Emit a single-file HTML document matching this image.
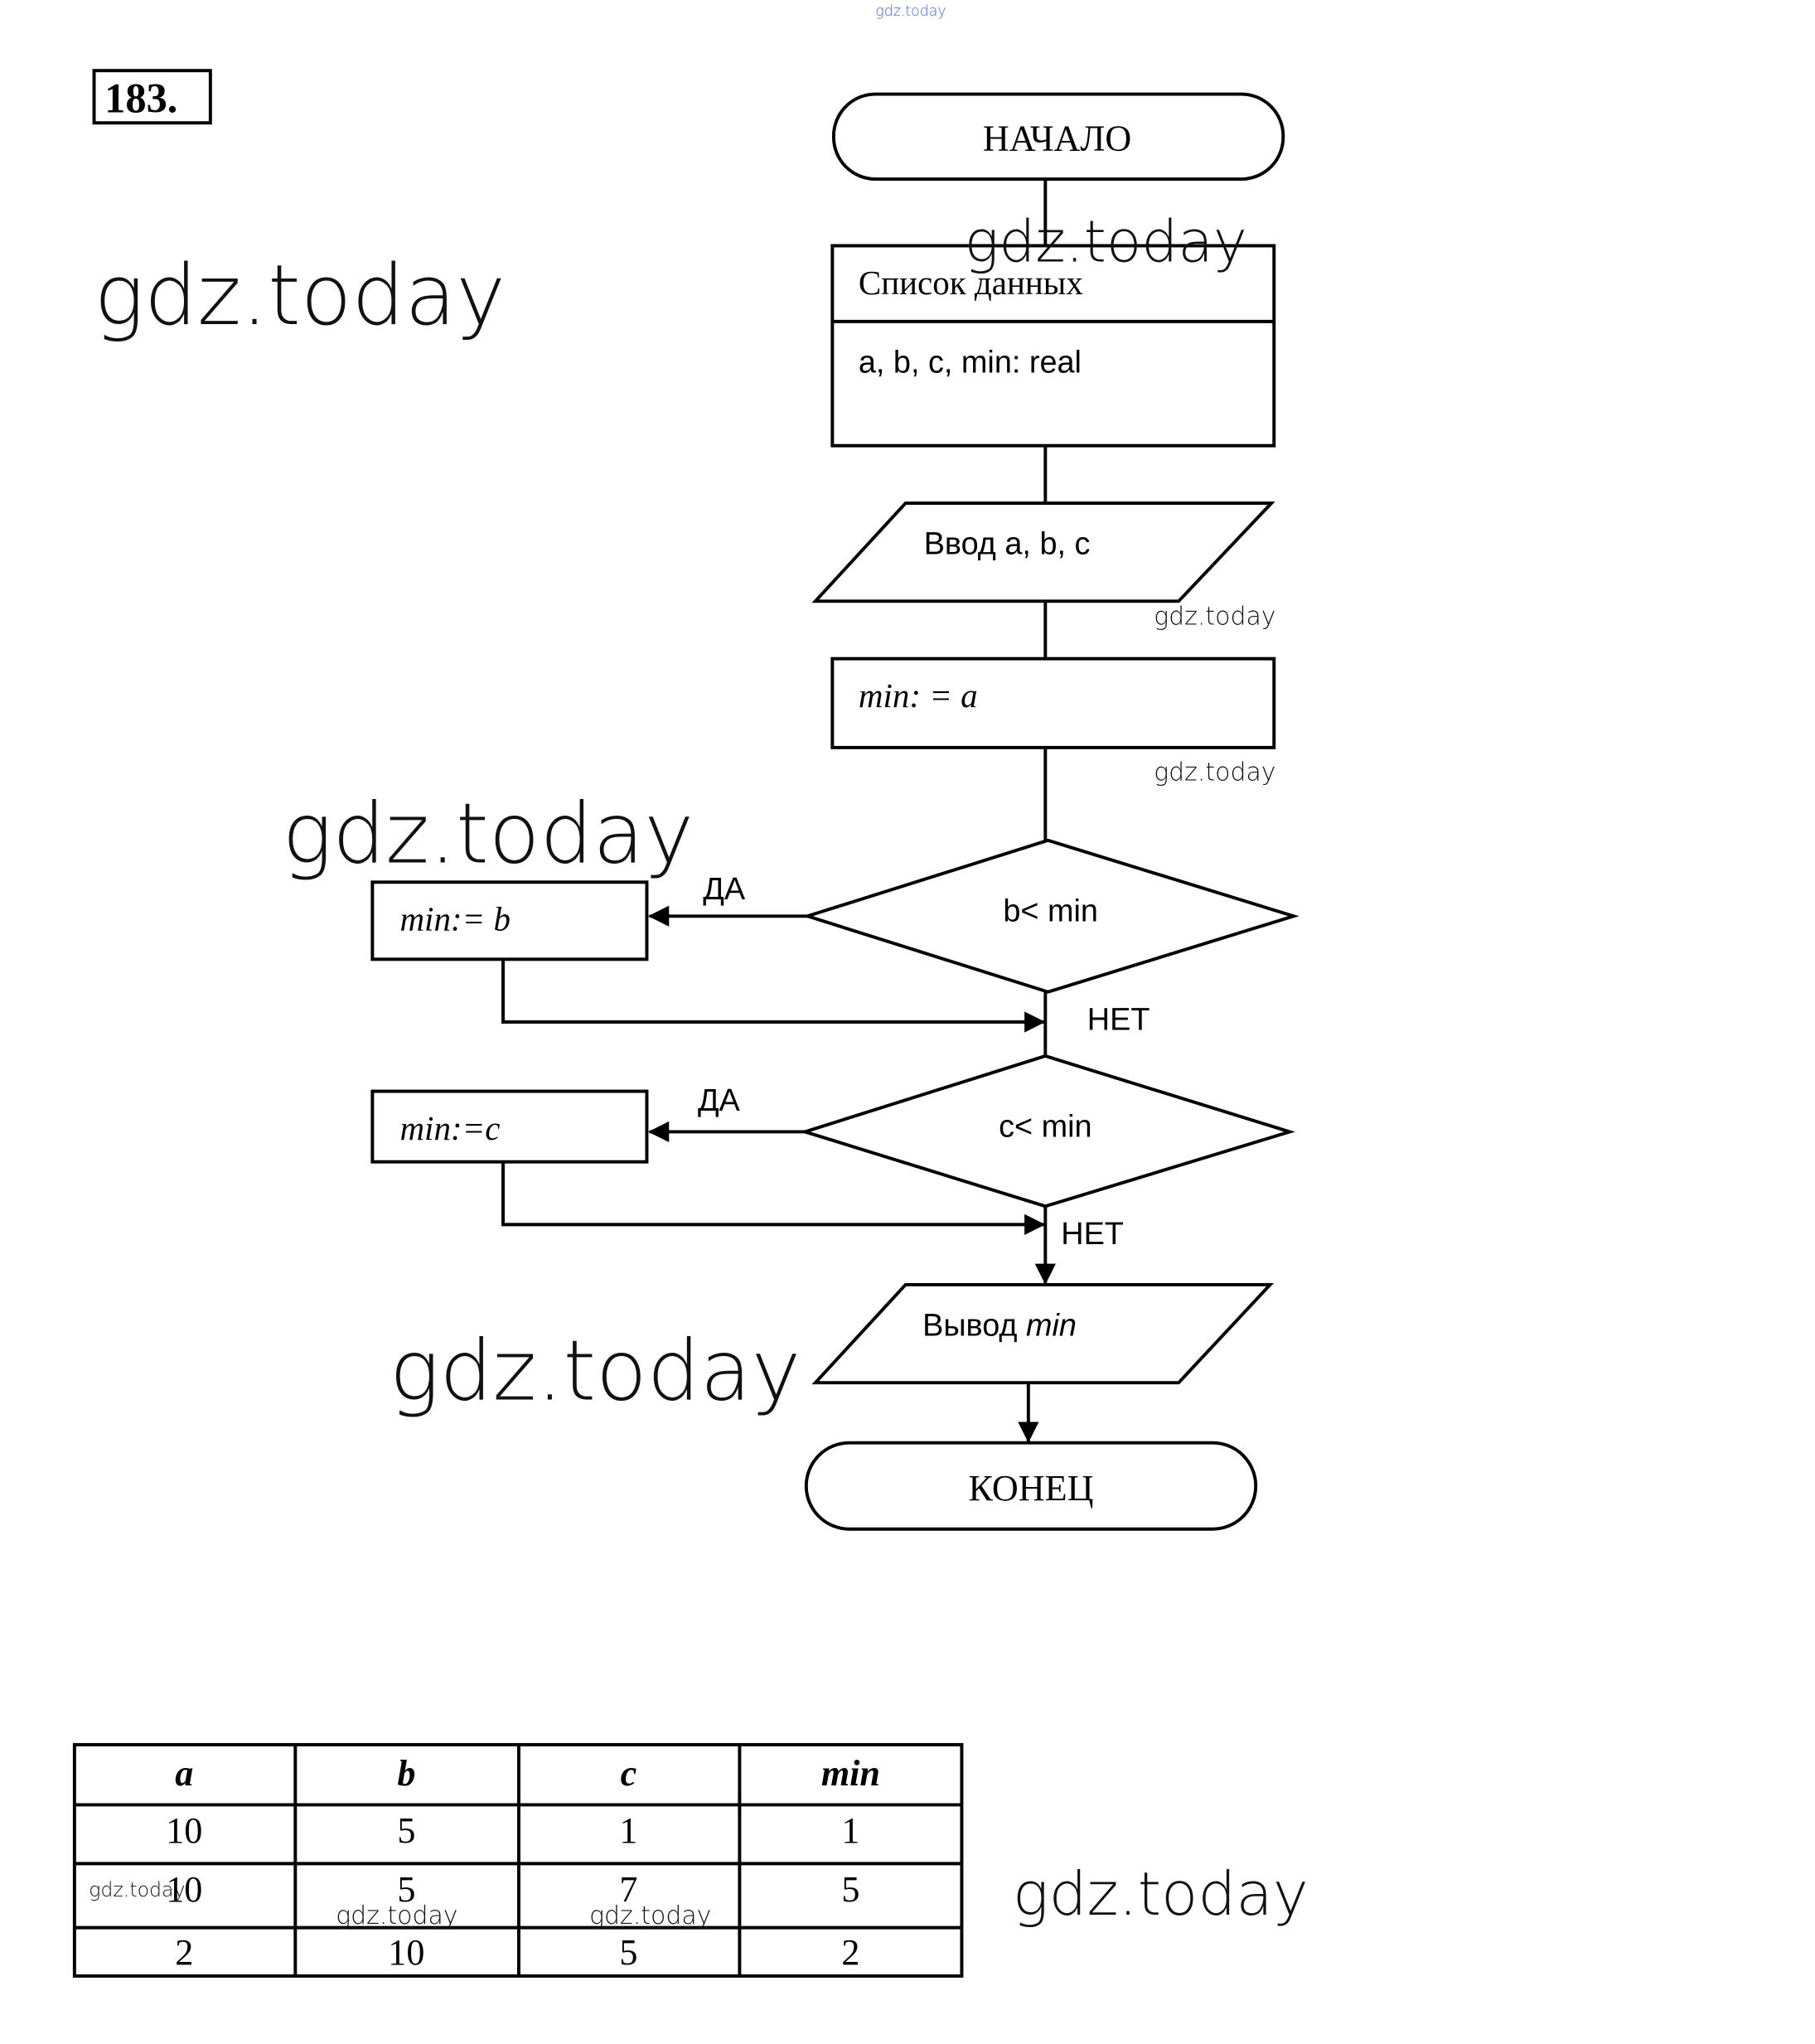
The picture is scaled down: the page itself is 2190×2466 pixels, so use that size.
<!DOCTYPE html>
<html><head><meta charset="utf-8"><style>
html,body{margin:0;padding:0;background:#fff;}
svg{display:block;}
.s{font-family:"Liberation Serif",serif;}
.a{font-family:"Liberation Sans","DejaVu Sans",sans-serif;}
.w{font-family:"DejaVu Sans","Liberation Sans",sans-serif;font-weight:200;fill:#111;}
</style></head><body>
<svg width="2190" height="2466" viewBox="0 0 1389 1564" xmlns="http://www.w3.org/2000/svg">
<defs><marker id="ar" markerWidth="10" markerHeight="10" refX="9" refY="5" orient="auto" markerUnits="userSpaceOnUse"><path d="M0,0 L10,5 L0,10z" fill="#000"/></marker>
<marker id="ar2" markerWidth="16" markerHeight="16" refX="15" refY="8" orient="auto" markerUnits="userSpaceOnUse"><path d="M0,0 L16,8 L0,16z" fill="#000"/></marker></defs>
<g fill="none" stroke="#000" stroke-width="2.5">
<rect x="72" y="54" width="89" height="40"/>
<rect x="638" y="72" width="344" height="65" rx="32"/>
<line x1="800" y1="137" x2="800" y2="188"/>
<rect x="637" y="188" width="338" height="153"/>
<line x1="637" y1="246" x2="975" y2="246"/>
<line x1="800" y1="341" x2="800" y2="385"/>
<polygon points="624,460 693,385 973,385 902,460"/>
<line x1="800" y1="460" x2="800" y2="504"/>
<rect x="637" y="504" width="338" height="68"/>
<line x1="800" y1="572" x2="800" y2="643"/>
<polygon points="802,643 990,701 802,759 618,701"/>
<line x1="618" y1="701" x2="497" y2="701" marker-end="url(#ar2)"/>
<rect x="285" y="675" width="210" height="59"/>
<polyline points="385,734 385,782 799,782" marker-end="url(#ar2)"/>
<line x1="800" y1="759" x2="800" y2="808"/>
<polygon points="800,808 987,866 800,923 616,866"/>
<line x1="616" y1="866" x2="497" y2="866" marker-end="url(#ar2)"/>
<rect x="285" y="835" width="210" height="54"/>
<polyline points="385,889 385,937 799,937" marker-end="url(#ar2)"/>
<line x1="800" y1="923" x2="800" y2="982" marker-end="url(#ar2)"/>
<polygon points="624,1058 693,983 972,983 902,1058"/>
<line x1="787" y1="1058" x2="787" y2="1103" marker-end="url(#ar2)"/>
<rect x="617" y="1104" width="344" height="66" rx="33"/>
<rect x="57" y="1335" width="679" height="177"/>
<line x1="57" y1="1381" x2="736" y2="1381"/>
<line x1="57" y1="1426" x2="736" y2="1426"/>
<line x1="57" y1="1475" x2="736" y2="1475"/>
<line x1="226" y1="1335" x2="226" y2="1512"/>
<line x1="397" y1="1335" x2="397" y2="1512"/>
<line x1="566" y1="1335" x2="566" y2="1512"/>
</g>
<g fill="#000">
<text x="80" y="86" class="s" font-size="32" font-weight="bold">183.</text>
<text x="809" y="115" class="s" font-size="28" text-anchor="middle">НАЧАЛО</text>
<text x="657" y="225" class="s" font-size="26">Список данных</text>
<text x="657" y="285" class="a" font-size="24">a, b, c, min: real</text>
<text x="707" y="424" class="a" font-size="24">Ввод a, b, c</text>
<text x="657" y="541" class="s" font-size="26" font-style="italic">min:  = a</text>
<text x="804" y="705" class="a" font-size="24" text-anchor="middle">b&lt; min</text>
<text x="538" y="688" class="a" font-size="24">ДА</text>
<text x="306" y="712" class="s" font-size="26" font-style="italic">min:= b</text>
<text x="832" y="788" class="a" font-size="24">НЕТ</text>
<text x="800" y="870" class="a" font-size="24" text-anchor="middle">c&lt; min</text>
<text x="534" y="850" class="a" font-size="24">ДА</text>
<text x="306" y="872" class="s" font-size="26" font-style="italic">min:=c</text>
<text x="812" y="952" class="a" font-size="24">НЕТ</text>
<text x="706" y="1022" class="a" font-size="24">Вывод <tspan font-style="italic">min</tspan></text>
<text x="789" y="1148" class="s" font-size="28" text-anchor="middle">КОНЕЦ</text>
<g class="s" font-size="28" text-anchor="middle">
<text x="141" y="1366" font-weight="bold" font-style="italic">a</text>
<text x="311" y="1366" font-weight="bold" font-style="italic">b</text>
<text x="481" y="1366" font-weight="bold" font-style="italic">c</text>
<text x="651" y="1366" font-weight="bold" font-style="italic">min</text>
<text x="141" y="1410">10</text><text x="311" y="1410">5</text><text x="481" y="1410">1</text><text x="651" y="1410">1</text>
<text x="141" y="1455">10</text><text x="311" y="1455">5</text><text x="481" y="1455">7</text><text x="651" y="1455">5</text>
<text x="141" y="1503">2</text><text x="311" y="1503">10</text><text x="481" y="1503">5</text><text x="651" y="1503">2</text>
</g>
</g>
<g class="w">
<text x="670" y="12" font-size="11" fill="#4466cc">gdz.today</text>
<text x="72" y="248" font-size="64">gdz.today</text>
<text x="738" y="200" font-size="44">gdz.today</text>
<text x="883" y="478" font-size="19">gdz.today</text>
<text x="883" y="597" font-size="19">gdz.today</text>
<text x="216" y="660" font-size="64">gdz.today</text>
<text x="298" y="1071" font-size="64">gdz.today</text>
<text x="775" y="1465" font-size="46">gdz.today</text>
<text x="68" y="1451" font-size="15">gdz.today</text>
<text x="257" y="1472" font-size="19">gdz.today</text>
<text x="451" y="1472" font-size="19">gdz.today</text>
</g>
</svg>
</body></html>
